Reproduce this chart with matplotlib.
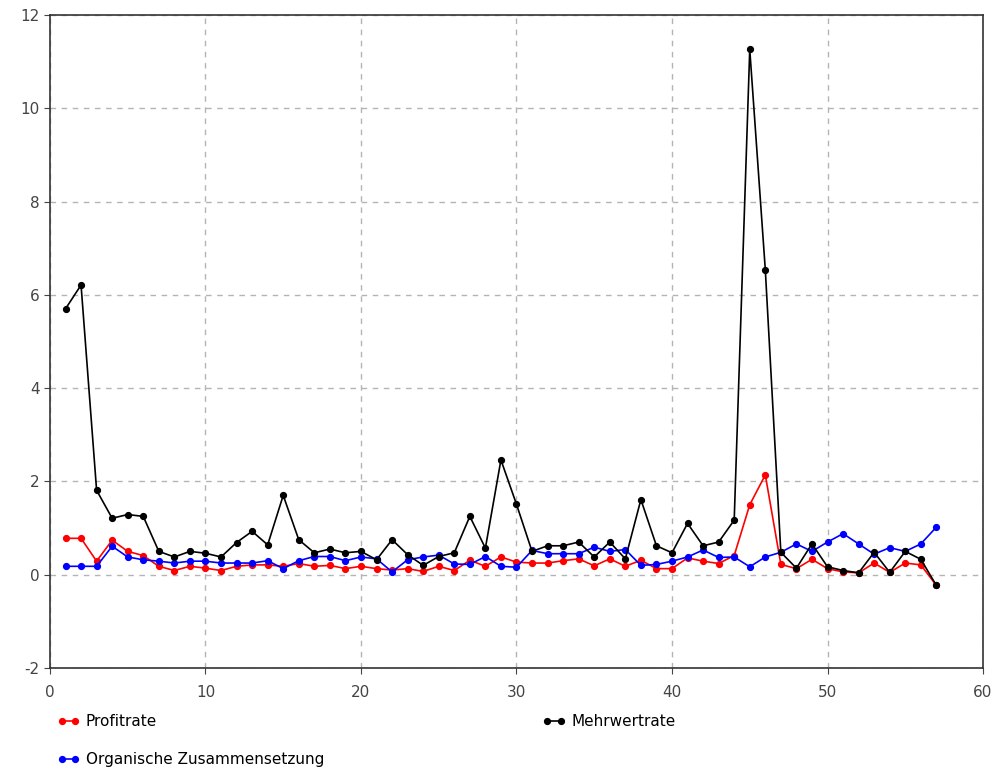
import matplotlib
matplotlib.use("Agg")
import matplotlib.pyplot as plt

plt.rcParams.update({"font.family": "DejaVu Sans", "axes.unicode_minus": False})

# Periode 1..57
perioden = list(range(1, 58))

profitrate = [0.78, 0.78, 0.29, 0.74, 0.50, 0.41, 0.18, 0.09, 0.18, 0.14,
              0.09, 0.18, 0.21, 0.21, 0.18, 0.24, 0.18, 0.20, 0.13, 0.18,
              0.13, 0.10, 0.13, 0.07, 0.18, 0.09, 0.31, 0.18, 0.38, 0.27,
              0.25, 0.25, 0.30, 0.34, 0.19, 0.34, 0.18, 0.31, 0.13, 0.13,
              0.36, 0.29, 0.24, 0.41, 1.50, 2.14, 0.22, 0.13, 0.33, 0.13,
              0.06, 0.04, 0.25, 0.05, 0.25, 0.21, -0.23]

mehrwertrate = [5.70, 6.21, 1.81, 1.21, 1.29, 1.25, 0.50, 0.38, 0.50, 0.46,
                0.38, 0.69, 0.93, 0.64, 1.70, 0.75, 0.47, 0.55, 0.47, 0.50,
                0.32, 0.75, 0.43, 0.20, 0.39, 0.47, 1.25, 0.57, 2.46, 1.51,
                0.50, 0.62, 0.62, 0.70, 0.38, 0.70, 0.34, 1.61, 0.62, 0.47,
                1.10, 0.62, 0.70, 1.17, 11.26, 6.54, 0.48, 0.14, 0.66, 0.17,
                0.09, 0.04, 0.48, 0.05, 0.50, 0.33, -0.23]

organische = [0.18, 0.18, 0.18, 0.61, 0.38, 0.32, 0.29, 0.25, 0.29, 0.29,
              0.25, 0.25, 0.25, 0.30, 0.13, 0.30, 0.39, 0.39, 0.30, 0.38,
              0.34, 0.06, 0.32, 0.38, 0.42, 0.23, 0.22, 0.39, 0.18, 0.16,
              0.52, 0.45, 0.45, 0.45, 0.59, 0.50, 0.54, 0.20, 0.22, 0.29,
              0.38, 0.53, 0.37, 0.38, 0.17, 0.38, 0.48, 0.66, 0.50, 0.70,
              0.88, 0.66, 0.44, 0.58, 0.50, 0.66, 1.02]

x_ticks = [0, 10, 20, 30, 40, 50, 60]
y_ticks = [-2, 0, 2, 4, 6, 8, 10, 12]

fig = plt.figure(figsize=(9.99, 7.71), dpi=100)
ax = fig.add_axes([0.05, 0.1336, 0.934, 0.847])

kw = dict(lw=1.2, marker="o", markersize=4.2)
l_p, = ax.plot(perioden, profitrate, color="#ff0000", label="Profitrate", **kw)
l_m, = ax.plot(perioden, mehrwertrate, color="#000000", label="Mehrwertrate", **kw)
l_o, = ax.plot(perioden, organische, color="#0000ff", label="Organische Zusammensetzung", **kw)
# rot unten, dann blau, schwarz oben
l_p.set_zorder(3); l_o.set_zorder(4); l_m.set_zorder(5)

ax.set_xlim(0, 60); ax.set_ylim(-2, 12)
ax.set_xticks(x_ticks); ax.set_yticks(y_ticks)
ax.grid(True, color="#b4b4b4", ls=(0, (4, 4)), lw=1)
ax.set_axisbelow(True)
for s in ax.spines.values():
    s.set_color("#333333"); s.set_linewidth(1.2)
ax.tick_params(labelsize=11, colors="#444444", length=4, direction="out")
ax.tick_params(axis="x", pad=8)

fig.legend(handles=[l_p, l_o, l_m], loc="upper left", bbox_to_anchor=(0.057, 0.074),
           ncol=2, frameon=False, fontsize=11, numpoints=2, handlelength=1.5,
           handletextpad=0.4, labelspacing=1.5, columnspacing=14.3,
           borderaxespad=0, borderpad=0)

fig.savefig("out.png", dpi=100, facecolor="white")
